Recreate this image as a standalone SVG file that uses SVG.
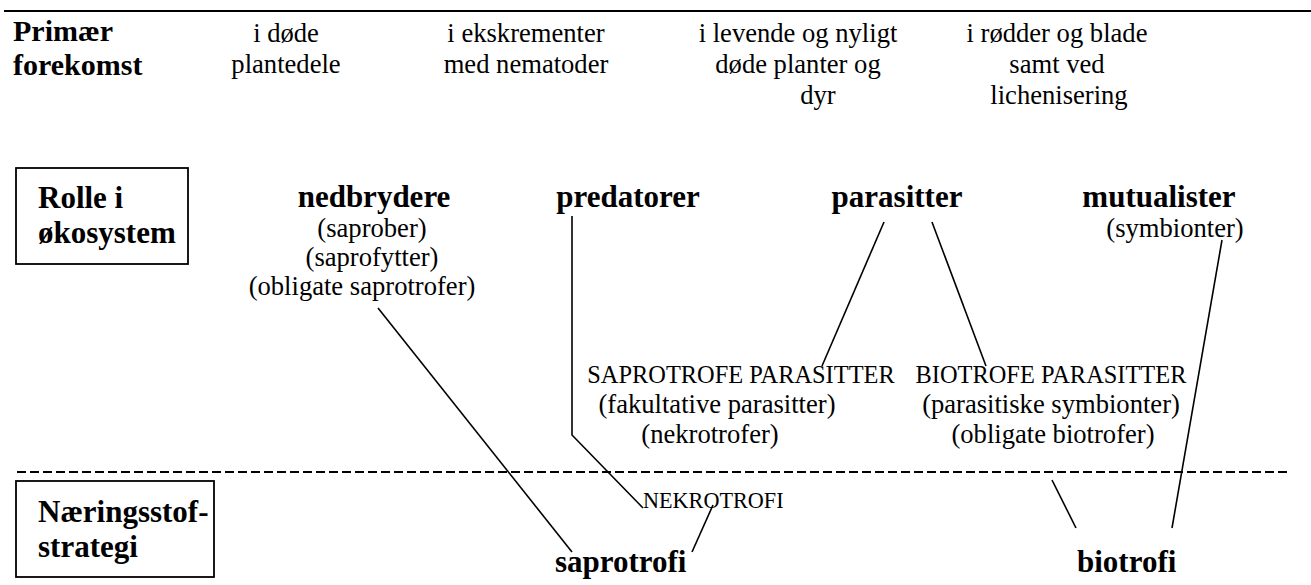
<svg xmlns="http://www.w3.org/2000/svg" width="1311" height="585" viewBox="0 0 1311 585">
<style>
text{font-family:"Liberation Serif","Times New Roman",serif;fill:#000}
.b{font-weight:bold;font-size:31px}
.h{font-weight:bold;font-size:30px}
.r{font-size:26.6px}
.c{font-size:24.4px}
.n{font-size:22.2px}
.m{text-anchor:middle}
.ln{stroke:#000;stroke-width:1.6;fill:none}
.box{fill:none;stroke:#000;stroke-width:1.8}
</style>
<rect width="1311" height="585" fill="#fff"/>
<line x1="4" y1="11" x2="1311" y2="11" stroke="#000" stroke-width="2.2"/>
<line x1="17" y1="472" x2="1288" y2="472" stroke="#000" stroke-width="2" stroke-dasharray="9 4"/>

<g id="header-forekomst">
<text class="h"><tspan x="13" y="41">Primær</tspan><tspan x="13" y="75">forekomst</tspan></text>
</g>
<g id="forekomst-1">
<text class="r m"><tspan x="286" y="42">i døde</tspan><tspan x="286" y="73">plantedele</tspan></text>
</g>
<g id="forekomst-2">
<text class="r m"><tspan x="526" y="42">i ekskrementer</tspan><tspan x="526" y="73">med nematoder</tspan></text>
</g>
<g id="forekomst-3">
<text class="r m"><tspan x="798" y="42">i levende og nyligt</tspan><tspan x="798" y="73">døde planter og</tspan><tspan x="818" y="104">dyr</tspan></text>
</g>
<g id="forekomst-4">
<text class="r m"><tspan x="1057" y="42">i rødder og blade</tspan><tspan x="1057" y="73">samt ved</tspan><tspan x="1059" y="104">lichenisering</tspan></text>
</g>

<g id="header-rolle">
<rect class="box" x="16" y="168" width="172" height="96"/>
<text class="b"><tspan x="38" y="208">Rolle i</tspan><tspan x="38" y="243">økosystem</tspan></text>
</g>
<g id="nedbrydere">
<text class="b m" x="374" y="207">nedbrydere</text>
<text class="r m"><tspan x="372" y="237">(saprober)</tspan><tspan x="372" y="266">(saprofytter)</tspan><tspan x="362" y="295">(obligate saprotrofer)</tspan></text>
</g>
<g id="predatorer">
<text class="b m" x="628" y="207">predatorer</text>
</g>
<g id="parasitter">
<text class="b m" x="897" y="207">parasitter</text>
</g>
<g id="mutualister">
<text class="b m" x="1159" y="207">mutualister</text>
<text class="r m" x="1175" y="237">(symbionter)</text>
</g>

<g id="saprotrofe-parasitter">
<text class="c m" x="741" y="383">SAPROTROFE PARASITTER</text>
<text class="r m"><tspan x="717" y="413">(fakultative parasitter)</tspan><tspan x="710" y="443">(nekrotrofer)</tspan></text>
</g>
<g id="biotrofe-parasitter">
<text class="c m" x="1051" y="383">BIOTROFE PARASITTER</text>
<text class="r m"><tspan x="1051" y="413">(parasitiske symbionter)</tspan><tspan x="1053" y="443">(obligate biotrofer)</tspan></text>
</g>

<g id="header-strategi">
<rect class="box" x="16" y="481" width="198" height="96"/>
<text class="b"><tspan x="38" y="522">Næringsstof-</tspan><tspan x="38" y="557">strategi</tspan></text>
</g>
<g id="nekrotrofi">
<text class="n" x="643" y="508">NEKROTROFI</text>
</g>
<g id="saprotrofi">
<text class="b" x="555" y="572">saprotrofi</text>
</g>
<g id="biotrofi">
<text class="b" x="1077" y="572">biotrofi</text>
</g>

<g id="connectors">
<path class="ln" d="M378,308 L572,552"/>
<path class="ln" d="M572,216 L572,435 L643,508"/>
<path class="ln" d="M884,222 L822,366"/>
<path class="ln" d="M932,222 L986,366"/>
<path class="ln" d="M1222,240 L1172,528"/>
<path class="ln" d="M1052,480 L1076,528"/>
<path class="ln" d="M713,505 L692,552"/>
</g>
</svg>
